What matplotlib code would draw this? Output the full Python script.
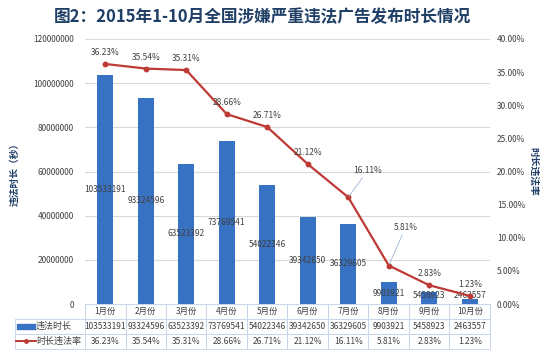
import matplotlib

matplotlib.use("Agg")
import matplotlib.pyplot as plt
import numpy as np
from matplotlib.lines import Line2D
from matplotlib.patches import Rectangle

plt.rcParams["font.family"] = ["Noto Sans CJK SC", "DejaVu Sans"]

# data
months = ["1月份", "2月份", "3月份", "4月份", "5月份", "6月份", "7月份", "8月份", "9月份", "10月份"]
duration = [103533191, 93324596, 63523392, 73769541, 54022346, 39342650, 36329605, 9903921, 5458923, 2463557]
rate = [36.23, 35.54, 35.31, 28.66, 26.71, 21.12, 16.11, 5.81, 2.83, 1.23]
bar_name = "违法时长"
line_name = "时长违法率"
title = "图2：2015年1-10月全国涉嫌严重违法广告发布时长情况"

BAR_C = "#3872C2"
LINE_C = "#BE3A34"
TXT = "#404040"
NAVY = "#1F3F66"
GRID = "#D9D9D9"
EDGE = "#C8D6E8"

W, H = 546, 351
fig = plt.figure(figsize=(W / 100, H / 100), dpi=100)
ax = fig.add_axes([85 / W, 1 - 304 / H, 405 / W, 265 / H])
ax2 = ax.twinx()

x = np.arange(len(months))
ax.bar(x, duration, width=0.4, color=BAR_C, zorder=2)
ax.set_xlim(-0.5, len(months) - 0.5)
ax.set_ylim(0, 120000000)
ax.set_yticks(np.arange(0, 120000001, 20000000))
ax.set_yticklabels([f"{v:d}" for v in range(0, 120000001, 20000000)])
ax.yaxis.grid(True, color=GRID, lw=0.8, zorder=0)
ax.set_axisbelow(True)
ax.set_xticks([])
for s in ax.spines.values():
    s.set_visible(False)
ax.tick_params(axis="y", length=0, labelsize=6, labelcolor=TXT, pad=8)
ax.set_ylabel("违法时长（秒）", fontsize=7, fontweight="bold", color=NAVY, labelpad=10)

for xi, v in zip(x, duration):
    ax.text(xi, max(v / 2, 4.0e6), f"{v}", ha="center", va="center",
            fontsize=6, color=TXT, zorder=4)

ax2.plot(x, rate, color=LINE_C, lw=1.6, marker="o", ms=3.2, zorder=3)
ax2.set_ylim(0, 40)
ax2.set_yticks(np.arange(0, 41, 5))
ax2.set_yticklabels([f"{v:.2f}%" for v in range(0, 41, 5)])
for s in ax2.spines.values():
    s.set_visible(False)
ax2.tick_params(axis="y", length=0, labelsize=6, labelcolor=TXT, pad=5)
ax2.set_ylabel(line_name, fontsize=7, fontweight="bold", color=NAVY, rotation=-90,
               va="center")
ax2.yaxis.set_label_coords((534 - 85) / 405, 0.5)

# line labels; 7 and 8 are pulled off the line with a leader
offsets = {6: (14, 16), 7: (12, 24)}
for i, (xi, r) in enumerate(zip(x, rate)):
    if i in offsets:
        ax2.annotate(f"{r:.2f}%", (xi, r), xytext=offsets[i], textcoords="offset points",
                     ha="center", va="bottom", fontsize=6, color=TXT,
                     arrowprops=dict(arrowstyle="-", color="#9DB6D3", lw=0.6,
                                     shrinkA=0, shrinkB=1))
    else:
        ax2.annotate(f"{r:.2f}%", (xi, r), xytext=(0, 5), textcoords="offset points",
                     ha="center", va="bottom", fontsize=6, color=TXT)

# data table under the plot
rows = [[""] + months,
        [""] + [f"{v}" for v in duration],
        [""] + [f"{r:.2f}%" for r in rate]]
lw_col = 70 / 405
tb = ax.table(cellText=rows, colWidths=[lw_col] + [0.1] * len(months),
              cellLoc="center", bbox=[-lw_col, -45 / 265, 1 + lw_col, 45 / 265])
tb.auto_set_font_size(False)
tb.set_fontsize(6)
for (r, c), cell in tb.get_celld().items():
    cell.set_edgecolor(EDGE)
    cell.set_linewidth(0.7)
    cell.get_text().set_color(TXT)
    if r == 0 and c == 0:
        cell.visible_edges = ""

# legend keys inside the table's first column
y1, y2 = -22 / 265, -37 / 265
x0 = -lw_col
ax.add_patch(Rectangle((x0 + 2 / 405, y1 - 2.5 / 265), 18 / 405, 5 / 265,
                       transform=ax.transAxes, color=BAR_C, clip_on=False))
ax.add_line(Line2D([x0 + 1 / 405, x0 + 21 / 405], [y2, y2], transform=ax.transAxes,
                   color=LINE_C, lw=1.4, clip_on=False))
ax.add_line(Line2D([x0 + 11 / 405], [y2], transform=ax.transAxes, color=LINE_C,
                   marker="o", ms=2.5, clip_on=False))
ax.text(x0 + 21 / 405, y1, bar_name, transform=ax.transAxes, ha="left", va="center",
        fontsize=6.5, color=TXT)
ax.text(x0 + 21 / 405, y2, line_name, transform=ax.transAxes, ha="left", va="center",
        fontsize=6.5, color=TXT)

fig.text(262 / W, 1 - 17 / H, title, ha="center", va="center", fontsize=12,
         fontweight="bold", color=NAVY)

fig.savefig("out.png", dpi=100)
